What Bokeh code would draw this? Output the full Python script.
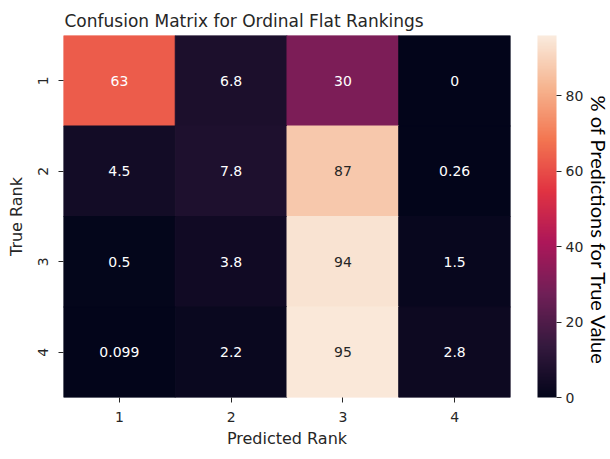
import numpy as np
from bokeh.plotting import figure
from bokeh.models import ColumnDataSource, ColorBar, LinearColorMapper, FixedTicker, Title, FactorRange
from bokeh.core.properties import value
from bokeh.embed import file_html
from bokeh.resources import INLINE

# ---- data ----
pred_ranks = ["1", "2", "3", "4"]
true_ranks = ["1", "2", "3", "4"]
row_1 = [63, 6.8, 30, 0]
row_2 = [4.5, 7.8, 87, 0.26]
row_3 = [0.5, 3.8, 94, 1.5]
row_4 = [0.099, 2.2, 95, 2.8]
labels_1 = ["63", "6.8", "30", "0"]
labels_2 = ["4.5", "7.8", "87", "0.26"]
labels_3 = ["0.5", "3.8", "94", "1.5"]
labels_4 = ["0.099", "2.2", "95", "2.8"]
cbar_ticks = [0, 20, 40, 60, 80]

# ---- rocket-like palette ----
anchors = ["#03051A", "#35193E", "#701F57", "#AD1759", "#E13342", "#F37651", "#F6B48F", "#FAEBDD"]
def hex2rgb(h):
    h = h.lstrip("#")
    return np.array([int(h[i:i + 2], 16) for i in (0, 2, 4)], dtype=float)
arr = np.array([hex2rgb(h) for h in anchors])
pos = np.linspace(0, 1, len(anchors))
t = np.linspace(0, 1, 256)
pal = []
for ti in t:
    rgb = [np.interp(ti, pos, arr[:, k]) for k in range(3)]
    pal.append("#%02x%02x%02x" % tuple(int(round(c)) for c in rgb))

vmin, vmax = 0, 96
mapper = LinearColorMapper(palette=pal, low=vmin, high=vmax)

rows = [row_1, row_2, row_3, row_4]
labs = [labels_1, labels_2, labels_3, labels_4]
xs, ys, vals, txt, tcol = [], [], [], [], []
for r, (rv, rl) in enumerate(zip(rows, labs)):
    for c, (v, l) in enumerate(zip(rv, rl)):
        xs.append(pred_ranks[c])
        ys.append(true_ranks[r])
        vals.append(v)
        txt.append(l)
        frac = (v - vmin) / (vmax - vmin)
        rgb = hex2rgb(pal[min(255, int(frac * 255))]) / 255.0
        lin = np.where(rgb <= 0.03928, rgb / 12.92, ((rgb + 0.055) / 1.055) ** 2.4)
        lum = 0.2126 * lin[0] + 0.7152 * lin[1] + 0.0722 * lin[2]
        tcol.append("#262626" if lum > 0.408 else "#ffffff")

src = ColumnDataSource(dict(x=xs, y=ys, v=vals, t=txt, tc=tcol))

FONT = "DejaVu Sans"
p = figure(frame_width=447, frame_height=362, output_backend="svg", toolbar_location=None,
           x_range=FactorRange(*pred_ranks), y_range=FactorRange(*reversed(true_ranks)),
           min_border_left=63, min_border_top=35, min_border_right=0, min_border_bottom=55)
p.title.text = "Confusion Matrix for Ordinal Flat Rankings"
p.title.align = "left"
p.title.offset = 1
p.title.text_font = FONT
p.title.text_font_size = "17px"
p.title.text_font_style = "normal"
p.title.text_color = "#262626"

cmap = {"field": "v", "transform": mapper}
p.rect(x="x", y="y", width=1, height=1, source=src,
       fill_color=cmap, line_color=cmap, line_width=1)
p.text(x="x", y="y", text="t", source=src, text_align="center", text_baseline="middle",
       text_font=value(FONT), text_font_size="14px", text_color="tc")

p.outline_line_color = None
p.grid.grid_line_color = None
p.background_fill_color = "white"
for ax in (p.xaxis, p.yaxis):
    ax.axis_line_color = None
    ax.major_tick_line_color = "#262626"
    ax.major_tick_out = 5
    ax.major_tick_in = 0
    ax.minor_tick_line_color = None
    ax.major_label_text_font = FONT
    ax.major_label_text_font_size = "14px"
    ax.major_label_text_color = "#262626"
    ax.axis_label_text_font = FONT
    ax.axis_label_text_font_size = "16px"
    ax.axis_label_text_font_style = "normal"
    ax.axis_label_text_color = "#262626"
p.xaxis.axis_label = "Predicted Rank"
p.yaxis.axis_label = "True Rank"
p.yaxis.major_label_orientation = "vertical"
p.xaxis.major_label_standoff = 9
p.xaxis.axis_label_standoff = 4
p.yaxis.major_label_standoff = 11
p.yaxis.axis_label_standoff = 9

cb = ColorBar(color_mapper=mapper, ticker=FixedTicker(ticks=cbar_ticks), width=19,
              padding=0, location=(27, 0),
              major_tick_out=5, major_tick_in=0, major_tick_line_color="#262626",
              minor_tick_line_color=None, bar_line_color=None, border_line_color=None,
              background_fill_alpha=0, label_standoff=4,
              major_label_text_font=FONT, major_label_text_font_size="14px",
              major_label_text_color="#262626")
p.add_layout(cb, "right")
cb_title = Title(text="% of Predictions for True Value", align="left", offset=60,
                 standoff=0, text_font="Lato", text_font_size="20px", text_font_style="normal",
                 text_color="black")
p.add_layout(cb_title, "right")

open("out.html", "w").write(file_html(p, INLINE))
